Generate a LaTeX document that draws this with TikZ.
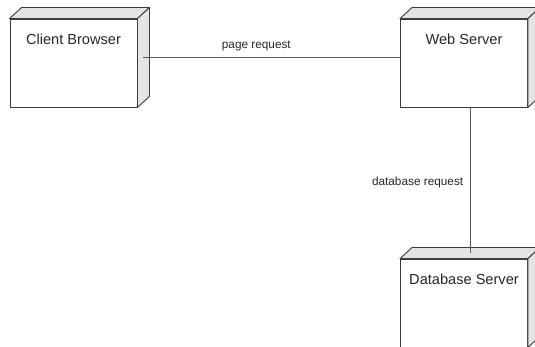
\documentclass[tikz,border=0pt]{standalone}
\usepackage{fontspec}
\setmainfont{Liberation Sans}
\usetikzlibrary{calc}

\definecolor{edgegray}{HTML}{3C3C3C}
\definecolor{linegray}{HTML}{5A5A5A}
\definecolor{facegray}{HTML}{E4E4E4}

\tikzset{
  nodebox/.style={draw=edgegray, fill=white, line width=0.9pt, minimum width=127pt, minimum height=88pt, inner sep=0pt},
  nodetitle/.style={font=\fontsize{14.6}{16}\selectfont, text=black!85, anchor=north, yshift=-11.5pt},
  sideface/.style={draw=edgegray, fill=facegray, line width=0.9pt, line join=round},
  link/.style={draw=linegray, line width=0.9pt},
  linklabel/.style={font=\fontsize{11.8}{13}\selectfont, text=black!85}
}

\begin{document}
\begin{tikzpicture}[x=1pt,y=1pt]
\useasboundingbox (0,0) rectangle (535,-347);

% les trois noeuds
\node[nodebox] (client) at (73.5,-63) {};
\node[nodebox] (web) at (464,-63) {};
\node[nodebox] (db) at (464,-303) {};

% faces en relief
\foreach \n in {client,web,db}{
  \filldraw[sideface] (\n.north west) -- ++(12,11) -- ($(\n.north east)+(12,11)$) -- (\n.north east) -- cycle;
  \filldraw[sideface] (\n.north east) -- ++(12,11) -- ($(\n.south east)+(12,11)$) -- (\n.south east) -- cycle;
}

% titres
\node[nodetitle] (clienttitle) at (client.north) {Client Browser};
\node[nodetitle] (webtitle) at (web.north) {Web Server};
\node[nodetitle] (dbtitle) at (db.north) {Database Server};

% liaisons
\coordinate (pagestart) at ($(client.east)+(6,6)$);
\draw[link] (pagestart) -- (pagestart -| web.west)
  node[linklabel, pos=0.44, above=2pt] (pagelabel) {page request};

\coordinate (dbstart) at ($(web.south)+(6,0)$);
\draw[link] (dbstart) -- ($(db.north)+(6,6)$)
  node[linklabel, pos=0.52, left=3pt] (dblabel) {database request};

\end{tikzpicture}
\end{document}
